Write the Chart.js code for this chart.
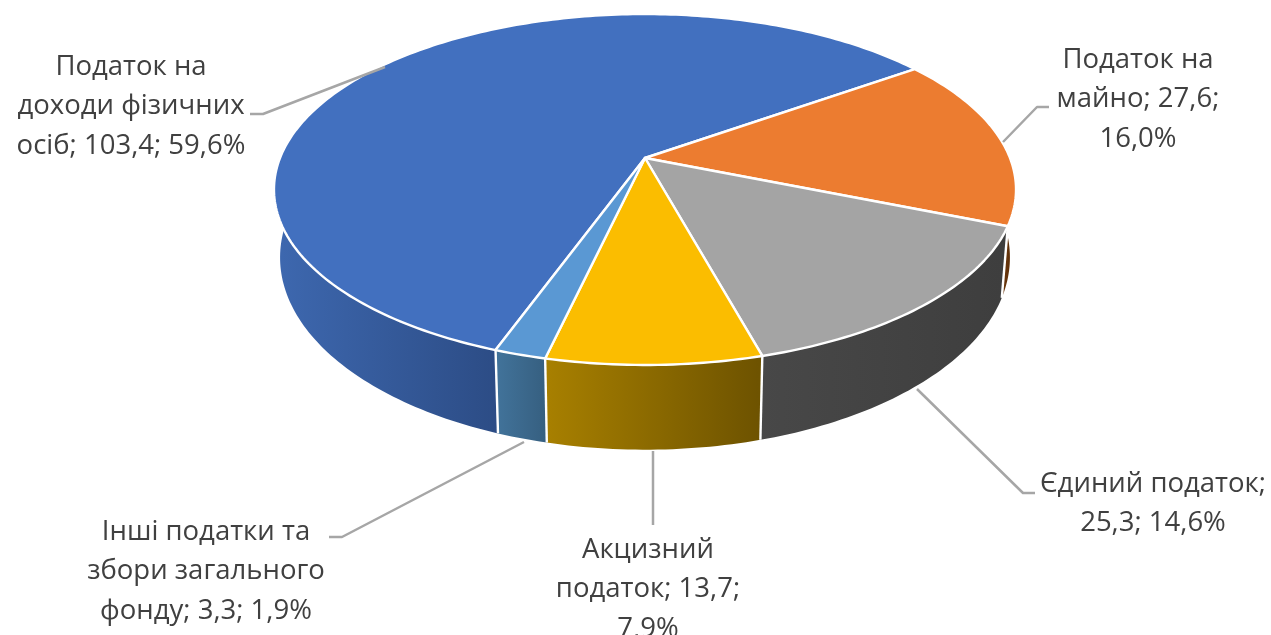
<!DOCTYPE html>
<html>
<head>
<meta charset="utf-8">
<style>html,body{margin:0;padding:0;background:#fff}canvas{display:block}</style>
<script src="https://cdn.jsdelivr.net/npm/chart.js@4/dist/chart.umd.min.js"></script>
</head>
<body>
<canvas id="c" width="1271" height="635"></canvas>
<script>
const categories = ["Податок на доходи фізичних осіб","Податок на майно","Єдиний податок","Акцизний податок","Інші податки та збори загального фонду"];
const values = [103.4, 27.6, 25.3, 13.7, 3.3];
const topColors = ["#4270bf","#ec7c30","#a4a4a4","#fbbd00","#5a98d3"];
const labelLines = [
  ["Податок на","доходи фізичних","осіб; 103,4; 59,6%"],
  ["Податок на","майно; 27,6;","16,0%"],
  ["Єдиний податок;","25,3; 14,6%"],
  ["Акцизний","податок; 13,7;","7,9%"],
  ["Інші податки та","збори загального","фонду; 3,3; 1,9%"]
];

/* layout of the perspective view */
const CX = 645, K = -0.1795;
const TOP = {a:365, b:169.8, y0:158};
const BOTTOM = {a:359, b:186, y0:223};
const WALL = [
  ["#3d67ae","#2c4c85",282,499],
  ["#6e3a10","#562a04",1000,1016],
  ["#484848","#3e3e3e",758,1003],
  ["#a88000","#6e5300",545,758],
  ["#417299","#365f80",499,546]
];
const LABEL_POS = [[131,75],[1138,68],[1153,492],[648,558],[206,540]];
const LEADERS = [
  [[250,114],[263,114],[385,67]],
  [[1003,142],[1037,107],[1049,107]],
  [[917,389],[1023,493],[1035,493]],
  [[653,451],[653,525]],
  [[524,442],[342,537],[329,537]]
];

function proj(face, ang){
  const x = Math.cos(ang), y = Math.sin(ang), w = 1 + K*y;
  return [CX + face.a*x/w, face.y0 + face.b*y/w];
}
function arcPts(face, s, e){
  const n = Math.max(2, Math.ceil((e-s)/(Math.PI/180)));
  const pts = [];
  for(let i=0;i<=n;i++) pts.push(proj(face, s+(e-s)*i/n));
  return pts;
}
const pie3d = {
  id:'pie3d',
  beforeDatasetDraw(){ return false; },
  afterDatasetsDraw(chart){
    const ctx = chart.ctx;
    const arcs = chart.getDatasetMeta(0).data;
    ctx.save();
    ctx.lineJoin = 'round';
    const order = [0,1,2,4,3];
    order.forEach(i=>{
      const a = arcs[i], w = WALL[i];
      const t = arcPts(TOP,a.startAngle,a.endAngle), b = arcPts(BOTTOM,a.startAngle,a.endAngle);
      const g = ctx.createLinearGradient(w[2],0,w[3],0);
      g.addColorStop(0,w[0]); g.addColorStop(1,w[1]);
      ctx.beginPath();
      t.forEach((p,j)=> j? ctx.lineTo(p[0],p[1]) : ctx.moveTo(p[0],p[1]));
      b.reverse().forEach(p=>ctx.lineTo(p[0],p[1]));
      ctx.closePath();
      ctx.fillStyle = g; ctx.fill();
    });
    /* white seams between the wall pieces */
    ctx.strokeStyle = '#fff'; ctx.lineWidth = 2.4;
    arcs.forEach(a=>{
      const p = proj(TOP,a.startAngle), q = proj(BOTTOM,a.startAngle);
      if(Math.sin(a.startAngle) > 0.2){
        ctx.beginPath(); ctx.moveTo(p[0],p[1]); ctx.lineTo(q[0],q[1]); ctx.stroke();
      }
    });
    /* top face */
    arcs.forEach((a,i)=>{
      const t = arcPts(TOP,a.startAngle,a.endAngle);
      ctx.beginPath();
      ctx.moveTo(CX,TOP.y0);
      t.forEach(p=>ctx.lineTo(p[0],p[1]));
      ctx.closePath();
      ctx.fillStyle = topColors[i]; ctx.fill();
      ctx.strokeStyle = '#fff'; ctx.lineWidth = 2.4; ctx.stroke();
    });
    /* leader lines */
    ctx.strokeStyle = '#a6a6a6'; ctx.lineWidth = 2.5;
    LEADERS.forEach(l=>{
      ctx.beginPath();
      l.forEach((p,j)=> j? ctx.lineTo(p[0],p[1]) : ctx.moveTo(p[0],p[1]));
      ctx.stroke();
    });
    /* data labels */
    ctx.fillStyle = '#404040';
    ctx.font = '27.5px "Open Sans"';
    ctx.textAlign = 'center';
    ctx.textBaseline = 'alphabetic';
    labelLines.forEach((lines,i)=>{
      lines.forEach((s,j)=>ctx.fillText(s, LABEL_POS[i][0], LABEL_POS[i][1]+j*39.3));
    });
    ctx.restore();
  }
};
new Chart(document.getElementById('c'),{
  type:'pie',
  data:{labels:categories,datasets:[{data:values,backgroundColor:topColors,borderColor:'#fff',borderWidth:2}]},
  options:{
    responsive:false,animation:false,rotation:199.9,
    layout:{padding:0},
    plugins:{legend:{display:false},tooltip:{enabled:false},title:{display:false}}
  },
  plugins:[pie3d]
});
</script>
</body>
</html>
